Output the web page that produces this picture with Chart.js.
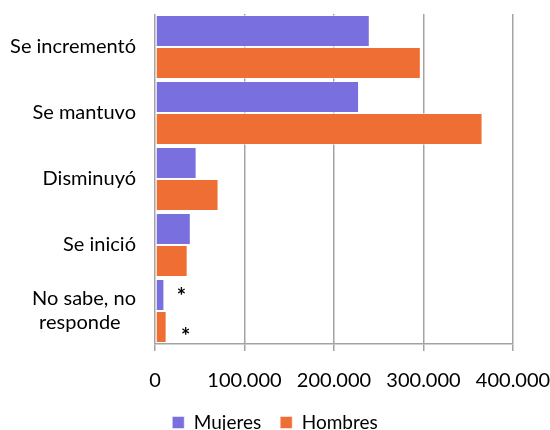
<!DOCTYPE html>
<html>
<head>
<meta charset="utf-8">
<script src="https://cdn.jsdelivr.net/npm/chart.js@4/dist/chart.umd.min.js"></script>
<style>
  html, body { margin: 0; padding: 0; background: #fff; }
  #wrap { width: 550px; height: 430px; }
</style>
</head>
<body>
<div id="wrap"><canvas id="chart" width="550" height="430"></canvas></div>
<script>
/* ── data ── */
const categories = ['Se incrementó', 'Se mantuvo', 'Disminuyó', 'Se inició', ['No sabe, no', 'responde   ']];
const mujeres = [240000, 228000, 46500, 40000, 10500];
const hombres = [297000, 366000, 71000, 36500, 13000];
const mujeresNotes = ['', '', '', '', '*'];
const hombresNotes = ['', '', '', '', '*'];
const xTicks = [0, 100000, 200000, 300000, 400000];

const FONT = 'Lato, "Open Sans", sans-serif';
const fmtMiles = v => v === 0 ? '0' : v.toLocaleString('de-DE');

/* asterisks next to the small bars */
const notesPlugin = {
    id: 'notes',
    afterDatasetsDraw(chart) {
        const ctx = chart.ctx;
        ctx.save();
        ctx.fillStyle = '#000';
        ctx.font = 'bold 22px ' + FONT;
        ctx.textAlign = 'center';
        ctx.textBaseline = 'middle';
        chart.data.datasets.forEach((ds, di) => {
            const meta = chart.getDatasetMeta(di);
            (ds.notes || []).forEach((n, i) => {
                if (!n) return;
                const bar = meta.data[i];
                const dx = di === 0 ? 17 : 19;
                const dy = di === 0 ? 2 : 10;
                ctx.fillText(n, bar.x + dx, bar.y + dy);
            });
        });
        ctx.restore();
    }
};

// keep the plot box where the reference has it
const setPad = (s, r) => { s.paddingTop = 0; s.paddingBottom = 0; s.paddingLeft = 0; s.paddingRight = r || 0; };

new Chart(document.getElementById('chart'), {
    type: 'bar',
    data: {
        labels: categories,
        datasets: [
            { label: 'Mujeres', data: mujeres, notes: mujeresNotes, backgroundColor: '#7a6fde', borderColor: 'rgba(255,255,255,0.5)', borderWidth: 1, borderSkipped: false },
            { label: 'Hombres', data: hombres, notes: hombresNotes, backgroundColor: '#ef6e33', borderColor: 'rgba(255,255,255,0.5)', borderWidth: 1, borderSkipped: false }
        ]
    },
    options: {
        indexAxis: 'y',
        responsive: false,
        animation: false,
        layout: { padding: { top: 14, right: 0, left: 0, bottom: -12 } },
        datasets: { bar: { categoryPercentage: 0.97, barPercentage: 1 } },
        plugins: {
            legend: {
                position: 'bottom',
                labels: { color: '#000', font: { family: FONT, size: 19 }, boxWidth: 12, boxHeight: 12, padding: 19 }
            },
            tooltip: { enabled: false }
        },
        scales: {
            x: {
                min: 0, max: 400000,
                afterBuildTicks: s => { s.ticks = xTicks.map(v => ({ value: v })); },
                afterFit: s => { s.height = 50; setPad(s, 37); },
                grid: { color: '#a3a3a3', lineWidth: 1.5, tickLength: 7, drawTicks: true },
                border: { color: '#a3a3a3', width: 1.5 },
                ticks: { color: '#000', font: { family: FONT, size: 20 }, padding: 18, maxRotation: 0, callback: v => fmtMiles(v) }
            },
            y: {
                afterFit: s => { s.width = 155; setPad(s); },
                grid: { display: false },
                border: { display: false },
                ticks: { color: '#000', font: { family: FONT, size: 20 }, padding: 11, autoSkip: false }
            }
        }
    },
    plugins: [notesPlugin]
});
</script>
</body>
</html>
